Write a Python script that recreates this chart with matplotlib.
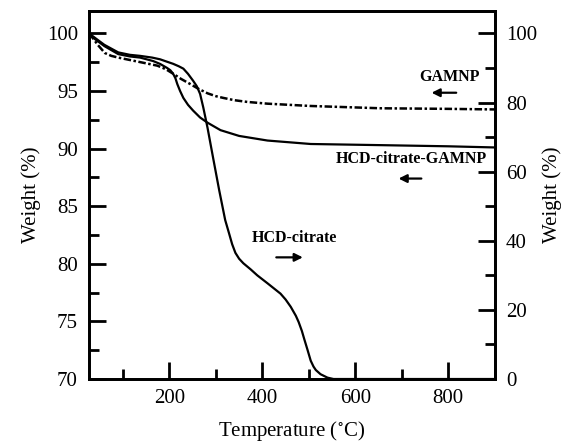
import matplotlib
matplotlib.use('Agg')
import matplotlib.pyplot as plt
from matplotlib.ticker import MultipleLocator

plt.rcParams['font.family'] = ['Liberation Serif', 'DejaVu Serif']
plt.rcParams['mathtext.fontset'] = 'stix'

# HCD-citrate-GAMNP, left axis (weight %)
t_cg = [27, 40, 60, 90, 115, 137, 165, 180, 195, 202, 208, 213, 217, 223, 230, 240, 251, 266, 282,
        310, 350, 411, 504, 655, 800, 900]
w_cg = [100, 99.5, 98.9, 98.2, 98.0, 97.9, 97.6, 97.35, 97.0, 96.8, 96.5, 96.1, 95.6, 95.0, 94.4, 93.8, 93.3, 92.7, 92.25,
        91.6, 91.1, 90.7, 90.4, 90.3, 90.2, 90.1]

# GAMNP, left axis (weight %)
t_g = [27, 37, 46, 61, 75, 90, 126, 150, 174, 192, 208, 225, 245, 262, 282, 300, 316, 340, 368, 411,
       504, 655, 800, 900]
w_g = [100, 99.5, 99.0, 98.3, 98.05, 97.9, 97.6, 97.4, 97.2, 96.9, 96.5, 96.05, 95.6, 95.2, 94.8, 94.55, 94.4, 94.2, 94.05, 93.9,
       93.7, 93.5, 93.45, 93.4]

# HCD-citrate, right axis (weight %)
t_c = [27, 40, 60, 90, 115, 137, 163, 180, 195, 208, 220, 230, 240, 251, 259, 266, 273, 282, 294, 307,
       320, 328, 335, 342, 350, 359, 375, 389, 411, 439, 450, 461, 472, 478, 485, 490, 497, 504, 510, 515,
       525, 540, 553, 600, 700, 800, 900]
w_c = [100, 98.7, 96.7, 94.5, 93.8, 93.5, 93.0, 92.5, 91.8, 91.2, 90.5, 89.8, 88.3, 86.3, 84.7, 82.5, 78.5, 72.7, 64.0, 54.7,
       46.0, 42.3, 39.0, 36.5, 34.8, 33.5, 31.7, 30.0, 27.7, 24.7, 23.0, 20.9, 18.3, 16.5, 13.9, 11.6, 8.5, 5.3, 3.6, 2.6,
       1.4, 0.4, 0, 0, 0, 0, 0]

fig = plt.figure(figsize=(5.76, 4.42), dpi=100)
ax = fig.add_axes([0.1545, 0.1425, 0.7045, 0.8325])
ax2 = ax.twinx()

ax.plot(t_cg, w_cg, 'k-', lw=1.6)
ax.plot(t_g, w_g, color='k', lw=1.8, linestyle=(0, (3, 1, 1, 1)))
ax2.plot(t_c, w_c, 'k-', lw=1.6)

ax.set_xlim(27, 900)
ax.set_ylim(70, 101.94)
ax2.set_ylim(0, (101.94 - 70) / 0.3)

ax.xaxis.set_major_locator(MultipleLocator(200))
ax.xaxis.set_minor_locator(MultipleLocator(100))
ax.yaxis.set_major_locator(MultipleLocator(5))
ax.yaxis.set_minor_locator(MultipleLocator(2.5))
ax2.yaxis.set_major_locator(MultipleLocator(20))
ax2.yaxis.set_minor_locator(MultipleLocator(10))

for a in (ax, ax2):
    for s in a.spines.values():
        s.set_linewidth(2)
    a.tick_params(which='major', direction='in', length=12, width=2, labelsize=15, pad=8)
    a.tick_params(which='minor', direction='in', length=7, width=2)
ax.tick_params(top=False, right=False, which='both')
ax.tick_params(axis='x', pad=7)

ax.set_xlabel(r'Temperature ($^{\circ}$C)', fontsize=15, labelpad=8)
ax.set_ylabel('Weight (%)', fontsize=15, labelpad=4)
ax2.set_ylabel('Weight (%)', fontsize=15, labelpad=4)

lab = dict(fontsize=11.5, fontweight='bold', ha='center', va='center')
arr = dict(arrowstyle='-|>', lw=1.6, color='k', mutation_scale=12)
ax.text(802, 96.2, 'GAMNP', **lab)
ax.annotate('', xy=(758, 94.85), xytext=(823, 94.85), arrowprops=arr)
ax.text(720, 89.13, 'HCD-citrate-GAMNP', **lab)
ax.annotate('', xy=(687, 87.4), xytext=(748, 87.4), arrowprops=arr)
ax.text(468, 82.2, 'HCD-citrate', **lab)
ax.annotate('', xy=(493, 80.56), xytext=(424, 80.56), arrowprops=arr)

fig.savefig('out.png', dpi=100)
